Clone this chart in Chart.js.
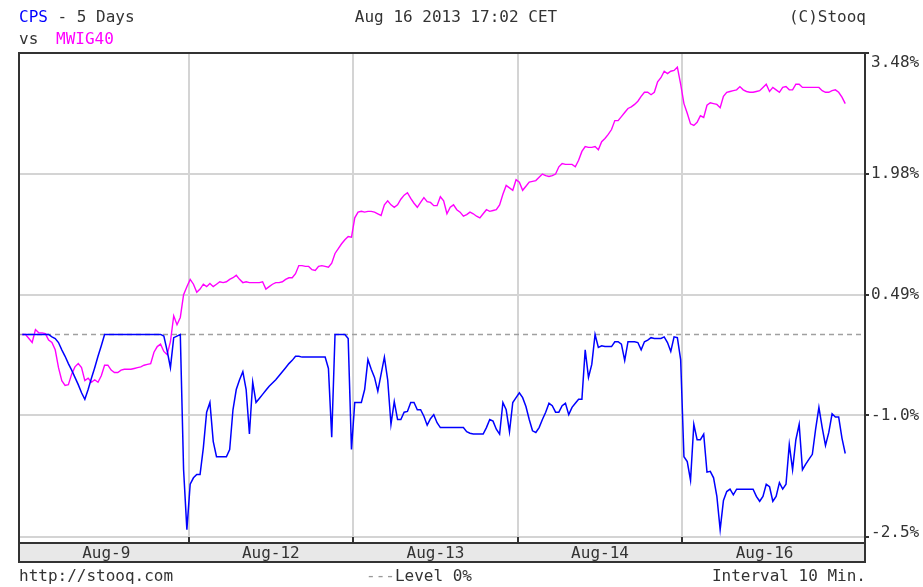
<!DOCTYPE html>
<html>
<head>
<meta charset="utf-8">
<script src="https://cdn.jsdelivr.net/npm/chart.js@4.4.1/dist/chart.umd.min.js"></script>
<style>
  html, body { margin: 0; padding: 0; background: #ffffff; }
  #c { display: block; }
</style>
</head>
<body>
<canvas id="c" width="923" height="587"></canvas>
<script>
// ---- data (10-minute slots, percent change vs. start) ----
const dayLabels = ['Aug-9', 'Aug-12', 'Aug-13', 'Aug-14', 'Aug-16'];
const dayBreaks = [50.5, 100.5, 150.5, 200.5];
const dayCenters = [25.5, 75.5, 125.5, 175.5, 225.5];
const yTickValues = [3.48, 1.98, 0.49, -1.0, -2.5];
const yTickLabels = ['3.48%', '1.98%', '0.49%', '-1.0%', '-2.5%'];
const levelValue = 0;

const cps = [
  0,0,0,0,0,0,0,0,0,-0.03,-0.05,-0.1,-0.19,-0.27,-0.36,-0.44,-0.53,-0.62,-0.72,-0.8,
  -0.68,-0.54,-0.41,-0.27,-0.14,0,0,0,0,0,0,0,0,0,0,0,0,0,0,0,
  0,0,0,-0.02,-0.2,-0.41,-0.04,-0.02,0,-1.67,-2.41,-1.85,-1.77,-1.73,-1.73,-1.40,-0.96,-0.84,-1.32,-1.51,
  -1.51,-1.51,-1.51,-1.42,-0.93,-0.68,-0.56,-0.46,-0.68,-1.23,-0.59,-0.84,-0.79,-0.74,-0.69,-0.64,-0.60,-0.56,-0.51,-0.46,
  -0.41,-0.36,-0.32,-0.27,-0.27,-0.28,-0.28,-0.28,-0.28,-0.28,-0.28,-0.28,-0.28,-0.42,-1.27,0,0,0,0,-0.05,
  -1.42,-0.84,-0.84,-0.84,-0.68,-0.31,-0.43,-0.53,-0.70,-0.49,-0.28,-0.56,-1.11,-0.83,-1.05,-1.05,-0.96,-0.95,-0.84,-0.84,
  -0.93,-0.93,-1.01,-1.12,-1.04,-0.99,-1.09,-1.15,-1.15,-1.15,-1.15,-1.15,-1.15,-1.15,-1.15,-1.20,-1.22,-1.23,-1.23,-1.23,
  -1.23,-1.15,-1.05,-1.07,-1.17,-1.23,-0.84,-0.93,-1.2,-0.84,-0.78,-0.72,-0.78,-0.89,-1.05,-1.19,-1.21,-1.15,-1.05,-0.96,
  -0.85,-0.88,-0.96,-0.96,-0.88,-0.85,-0.99,-0.90,-0.85,-0.80,-0.80,-0.19,-0.53,-0.37,0,-0.16,-0.14,-0.15,-0.15,-0.15,
  -0.09,-0.09,-0.12,-0.32,-0.09,-0.09,-0.09,-0.10,-0.19,-0.09,-0.07,-0.04,-0.05,-0.05,-0.05,-0.03,-0.10,-0.21,-0.03,-0.04,
  -0.31,-1.51,-1.57,-1.8,-1.11,-1.30,-1.30,-1.23,-1.70,-1.69,-1.77,-2.00,-2.41,-2.05,-1.94,-1.91,-1.98,-1.91,-1.91,-1.91,
  -1.91,-1.91,-1.91,-2.0,-2.06,-2.0,-1.85,-1.88,-2.06,-2.0,-1.83,-1.91,-1.85,-1.36,-1.67,-1.30,-1.11,-1.67,-1.60,-1.54,
  -1.48,-1.17,-0.90,-1.15,-1.37,-1.21,-0.98,-1.02,-1.02,-1.28,-1.47
];

const mwig40 = [
  0.0,0.0,-0.05,-0.1,0.06,0.02,0.02,0.01,-0.07,-0.1,-0.19,-0.41,-0.57,-0.63,-0.62,-0.49,-0.4,-0.36,-0.41,-0.57,
  -0.54,-0.59,-0.56,-0.59,-0.51,-0.38,-0.38,-0.44,-0.47,-0.47,-0.44,-0.43,-0.43,-0.43,-0.42,-0.41,-0.40,-0.38,-0.37,-0.36,
  -0.22,-0.15,-0.12,-0.21,-0.25,-0.09,0.23,0.12,0.21,0.49,0.59,0.68,0.62,0.52,0.56,0.62,0.59,0.63,0.59,0.62,
  0.65,0.64,0.65,0.68,0.70,0.73,0.68,0.64,0.65,0.64,0.64,0.64,0.64,0.65,0.56,0.59,0.62,0.64,0.64,0.65,
  0.68,0.70,0.70,0.75,0.85,0.85,0.84,0.84,0.80,0.79,0.84,0.85,0.84,0.83,0.88,1.0,1.06,1.12,1.17,1.21,
  1.20,1.44,1.51,1.52,1.51,1.52,1.52,1.51,1.49,1.47,1.60,1.65,1.60,1.57,1.60,1.67,1.72,1.75,1.68,1.62,
  1.57,1.63,1.69,1.64,1.63,1.59,1.59,1.70,1.65,1.49,1.57,1.60,1.54,1.51,1.46,1.48,1.51,1.49,1.46,1.44,
  1.49,1.54,1.52,1.53,1.54,1.60,1.73,1.84,1.81,1.78,1.91,1.88,1.78,1.83,1.88,1.89,1.90,1.94,1.98,1.96,
  1.95,1.96,1.98,2.07,2.11,2.10,2.10,2.10,2.07,2.15,2.26,2.32,2.31,2.31,2.32,2.28,2.38,2.42,2.47,2.53,
  2.64,2.64,2.69,2.74,2.79,2.81,2.84,2.88,2.94,2.99,2.99,2.96,2.99,3.12,3.17,3.25,3.22,3.25,3.26,3.30,
  3.09,2.85,2.73,2.60,2.58,2.62,2.70,2.68,2.83,2.86,2.85,2.84,2.80,2.94,2.99,3.0,3.01,3.02,3.06,3.02,
  3.0,2.99,2.99,3.0,3.01,3.05,3.09,3.0,3.05,3.02,2.99,3.05,3.06,3.02,3.02,3.09,3.09,3.05,3.05,3.05,
  3.05,3.05,3.05,3.01,2.99,2.99,3.01,3.02,2.99,2.93,2.85
];

const toPoints = arr => arr.map((v, i) => ({ x: i, y: v }));

const FONT = '16px "DejaVu Sans Mono", "Liberation Mono", monospace';
const TXT = '#333333';

const decor = {
  id: 'decor',
  beforeDraw(chart) {
    const ctx = chart.ctx;
    ctx.save();
    ctx.fillStyle = '#ffffff';
    ctx.fillRect(0, 0, chart.width, chart.height);
    ctx.restore();
  },
  afterDraw(chart) {
    const ctx = chart.ctx;
    const a = chart.chartArea;
    const xs = chart.scales.x, ys = chart.scales.y;
    ctx.save();
    // band under plot
    const bandTop = a.bottom, bandBottom = a.bottom + 19;
    ctx.fillStyle = '#e8e8e8';
    ctx.fillRect(a.left, bandTop, a.right - a.left, bandBottom - bandTop);
    ctx.strokeStyle = '#333333';
    ctx.lineWidth = 2;
    ctx.strokeRect(a.left, bandTop, a.right - a.left, bandBottom - bandTop);
    // plot border
    ctx.strokeRect(a.left, a.top, a.right - a.left, a.bottom - a.top);
    // tick marks
    ctx.beginPath();
    dayBreaks.forEach(v => {
      const px = Math.round(xs.getPixelForValue(v));
      ctx.moveTo(px, a.bottom - 6); ctx.lineTo(px, a.bottom);
    });
    yTickValues.forEach(v => {
      const py = Math.round(ys.getPixelForValue(v));
      ctx.moveTo(a.right, py); ctx.lineTo(a.right + 4, py);
    });
    ctx.stroke();

    ctx.font = FONT;
    ctx.textBaseline = 'middle';
    // right labels
    ctx.fillStyle = TXT;
    ctx.textAlign = 'left';
    yTickValues.forEach((v, k) => {
      let py = ys.getPixelForValue(v);
      py = Math.max(a.top + 10, Math.min(a.bottom - 10, py));
      ctx.fillText(yTickLabels[k], a.right + 6, py);
    });
    // day labels
    ctx.textAlign = 'center';
    dayCenters.forEach((v, k) => {
      ctx.fillText(dayLabels[k], xs.getPixelForValue(v), (bandTop + bandBottom) / 2 + 1);
    });
    // header
    ctx.textAlign = 'left';
    ctx.fillStyle = '#0000ff';
    ctx.fillText('CPS', 19, 18);
    const w = ctx.measureText('CPS').width;
    ctx.fillStyle = TXT;
    ctx.fillText(' - 5 Days', 19 + w, 18);
    ctx.fillText('vs', 19, 40);
    ctx.fillStyle = '#ff00ff';
    ctx.fillText('MWIG40', 56, 40);
    ctx.fillStyle = TXT;
    ctx.textAlign = 'center';
    ctx.fillText('Aug 16 2013 17:02 CET', 456, 18);
    ctx.textAlign = 'right';
    ctx.fillText('(C)Stooq', 866, 18);
    // footer
    ctx.textAlign = 'left';
    ctx.fillText('http://stooq.com', 19, 577);
    ctx.fillStyle = '#999999';
    ctx.fillText('---', 366, 577);
    const dw = ctx.measureText('---').width;
    ctx.fillStyle = TXT;
    ctx.fillText('Level 0%', 366 + dw, 577);
    ctx.textAlign = 'right';
    ctx.fillText('Interval 10 Min.', 866, 577);
    ctx.restore();
  }
};

new Chart(document.getElementById('c'), {
  type: 'line',
  data: {
    datasets: [
      {
        label: 'Level 0%',
        data: [{ x: -1, y: levelValue }, { x: 256, y: levelValue }],
        borderColor: '#a0a0a0',
        borderWidth: 1.5,
        borderDash: [5, 4],
        pointRadius: 0,
        order: 3
      },
      {
        label: 'MWIG40',
        data: toPoints(mwig40),
        borderColor: '#ff00ff',
        borderWidth: 1.4,
        pointRadius: 0,
        tension: 0,
        order: 2
      },
      {
        label: 'CPS',
        data: toPoints(cps),
        borderColor: '#0000ff',
        borderWidth: 1.5,
        pointRadius: 0,
        tension: 0,
        order: 1
      }
    ]
  },
  options: {
    responsive: false,
    animation: false,
    devicePixelRatio: 1,
    layout: { padding: { left: 19, right: 58, top: 53, bottom: 44 } },
    plugins: { legend: { display: false }, tooltip: { enabled: false } },
    scales: {
      x: {
        type: 'linear',
        min: -1,
        max: 256,
        afterBuildTicks: s => { s.ticks = dayBreaks.map(v => ({ value: v })); },
        ticks: { display: false },
        grid: { color: '#d4d4d4', lineWidth: 2, drawTicks: false },
        border: { display: false }
      },
      y: {
        type: 'linear',
        position: 'right',
        min: -2.575,
        max: 3.475,
        afterBuildTicks: s => { s.ticks = yTickValues.map(v => ({ value: v })); },
        ticks: { display: false },
        grid: { color: '#d4d4d4', lineWidth: 2, drawTicks: false },
        border: { display: false }
      }
    }
  },
  plugins: [decor]
});
</script>
</body>
</html>
